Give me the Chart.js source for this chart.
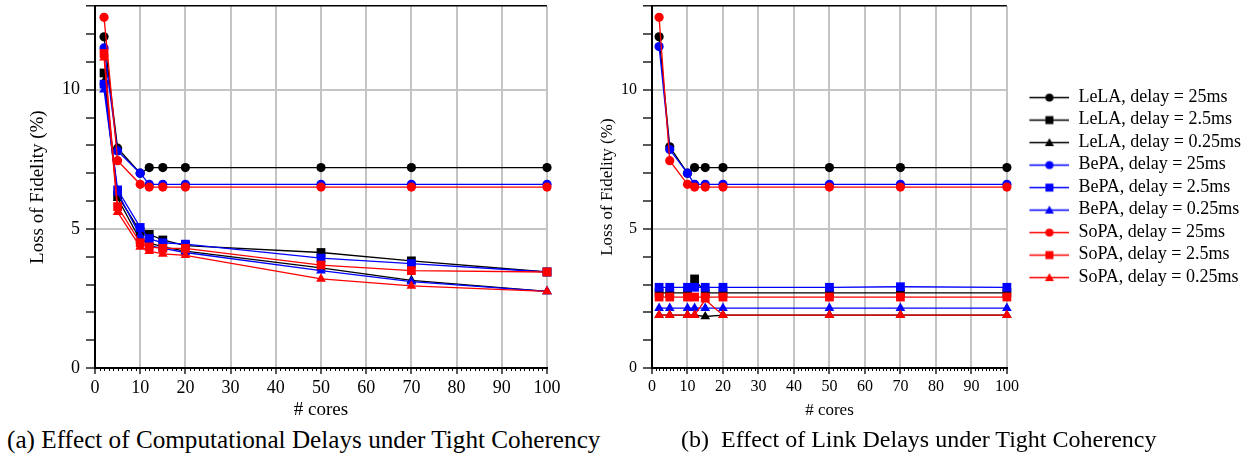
<!DOCTYPE html>
<html>
<head>
<meta charset="utf-8">
<script src="https://cdn.jsdelivr.net/npm/chart.js@4.4.1/dist/chart.umd.min.js"></script>
<style>
body{margin:0;background:#fff;}
#wrap{position:relative;width:1255px;height:459px;overflow:hidden;font-family:"Liberation Serif","Times New Roman",serif;}
canvas{position:absolute;top:0;}
#chartA{left:0;}
#chartB{left:585px;}
.cap{position:absolute;top:427px;white-space:pre;line-height:1;color:#000;}
#capA{left:7px;font-size:25.2px;}
#capB{left:681px;font-size:24px;}
</style>
</head>
<body>
<div id="wrap">
  <canvas id="chartA" width="600" height="425"></canvas>
  <canvas id="chartB" width="670" height="425"></canvas>
  <div class="cap" id="capA">(a) Effect of Computational Delays under Tight Coherency</div>
  <div class="cap" id="capB">(b)  Effect of Link Delays under Tight Coherency</div>
</div>
<script>

/* DATA */

const cores = [2, 5, 10, 12, 15, 20, 50, 70, 100];

const seriesNames = [
  "LeLA, delay = 25ms", "LeLA, delay = 2.5ms", "LeLA, delay = 0.25ms",
  "BePA, delay = 25ms", "BePA, delay = 2.5ms", "BePA, delay = 0.25ms",
  "SoPA, delay = 25ms", "SoPA, delay = 2.5ms", "SoPA, delay = 0.25ms"
];
const seriesColors = ["#000000","#000000","#000000","#0000ff","#0000ff","#0000ff","#ff0000","#ff0000","#ff0000"];
const seriesMarkers = ["circle","rect","triangle","circle","rect","triangle","circle","rect","triangle"];

const yTicksShown = [0, 5, 10];

// (a) computational delays
const compLeLA25   = [11.9, 7.9, 7.0, 7.2, 7.2, 7.2, 7.2, 7.2, 7.2];
const compLeLA2_5  = [10.6, 6.2, 4.9, 4.8, 4.6, 4.4, 4.15, 3.85, 3.45];
const compLeLA0_25 = [10.3, 6.1, 4.6, 4.5, 4.35, 4.2, 3.6, 3.15, 2.75];
const compBePA25   = [11.5, 7.8, 7.0, 6.6, 6.6, 6.6, 6.6, 6.6, 6.6];
const compBePA2_5  = [10.2, 6.4, 5.05, 4.65, 4.5, 4.45, 3.95, 3.75, 3.45];
const compBePA0_25 = [10.0, 6.3, 4.75, 4.4, 4.3, 4.15, 3.5, 3.1, 2.75];
const compSoPA25   = [12.6, 7.45, 6.6, 6.5, 6.5, 6.5, 6.5, 6.5, 6.5];
const compSoPA2_5  = [11.3, 5.8, 4.5, 4.35, 4.3, 4.3, 3.7, 3.5, 3.45];
const compSoPA0_25 = [11.15, 5.6, 4.35, 4.2, 4.1, 4.05, 3.2, 2.95, 2.75];

// (b) link delays
const linkLeLA25   = [11.9, 7.95, 7.0, 7.2, 7.2, 7.2, 7.2, 7.2, 7.2];
const linkLeLA2_5  = [2.7, 2.7, 2.7, 3.2, 2.7, 2.7, 2.7, 2.7, 2.7];
const linkLeLA0_25 = [1.9, 1.9, 1.9, 1.9, 1.85, 1.9, 1.9, 1.9, 1.9];
const linkBePA25   = [11.55, 7.85, 7.0, 6.6, 6.6, 6.6, 6.6, 6.6, 6.6];
const linkBePA2_5  = [2.9, 2.9, 2.9, 2.9, 2.9, 2.9, 2.9, 2.92, 2.9];
const linkBePA0_25 = [2.15, 2.15, 2.15, 2.15, 2.15, 2.15, 2.15, 2.15, 2.15];
const linkSoPA25   = [12.6, 7.45, 6.6, 6.5, 6.5, 6.5, 6.5, 6.5, 6.5];
const linkSoPA2_5  = [2.55, 2.55, 2.55, 2.55, 2.55, 2.55, 2.55, 2.55, 2.55];
const linkSoPA0_25 = [1.9, 1.9, 1.9, 1.9, 2.45, 1.9, 1.9, 1.9, 1.9];

const compSeries = [compLeLA25, compLeLA2_5, compLeLA0_25, compBePA25, compBePA2_5, compBePA0_25, compSoPA25, compSoPA2_5, compSoPA0_25];
const linkSeries = [linkLeLA25, linkLeLA2_5, linkLeLA0_25, linkBePA25, linkBePA2_5, linkBePA0_25, linkSoPA25, linkSoPA2_5, linkSoPA0_25];

/* STYLE */

const FONT = "'Liberation Serif', 'Times New Roman', serif";
const GRID = "#c4c4c4";
const markerRadius = {circle: 4.6, rect: 6.2, triangle: 5.6};

function makeDatasets(series){
  return series.map((vals, i) => ({
    label: seriesNames[i],
    data: cores.map((c, j) => ({x: c, y: vals[j]})),
    borderColor: seriesColors[i],
    backgroundColor: seriesColors[i],
    pointBackgroundColor: seriesColors[i],
    pointBorderColor: seriesColors[i],
    pointBorderWidth: 0,
    pointStyle: seriesMarkers[i],
    pointRadius: markerRadius[seriesMarkers[i]],
    borderWidth: 1.3,
    tension: 0,
    clip: false,
    order: series.length - i
  }));
}

/* legend swatches: line with marker */

function makeSwatch(i){
  const c = document.createElement("canvas");
  c.width = 58;
  c.height = 14;
  const g = c.getContext("2d");
  g.strokeStyle = seriesColors[i];
  g.fillStyle = seriesColors[i];
  g.lineWidth = 1.4;
  g.beginPath();
  g.moveTo(18, 7.5);
  g.lineTo(58, 7.5);
  g.stroke();
  g.beginPath();
  const m = seriesMarkers[i];
  if(m === "circle"){
    g.arc(38, 7.5, 4, 0, Math.PI * 2);
  }else if(m === "rect"){
    g.rect(34, 3.5, 8, 8);
  }else{
    g.moveTo(38, 3);
    g.lineTo(42.5, 11);
    g.lineTo(33.5, 11);
    g.closePath();
  }
  g.fill();
  return c;
}

const swatches = seriesNames.map((_, i) => makeSwatch(i));

/* minor ticks on x axis */

const minorTicks = {
  id: "minorTicks",
  afterDraw(chart){
    const xs = chart.scales.x;
    const ctx = chart.ctx;
    ctx.save();
    ctx.strokeStyle = "#000";
    ctx.lineWidth = 1;
    ctx.beginPath();
    for(let v = xs.min; v <= xs.max; v++){
      if(v % 10 === 0) continue;
      const px = Math.round(xs.getPixelForValue(v)) + 0.5;
      ctx.moveTo(px, xs.top);
      ctx.lineTo(px, xs.top + 3);
    }
    ctx.stroke();
    ctx.restore();
  }
};

function makeOptions(cfg){
  return {
    responsive: false,
    animation: false,
    layout: { padding: { top: 5, right: cfg.padRight, left: 0, bottom: 0 } },
    plugins: {
      legend: cfg.legend ? {
        display: true,
        position: "right",
        align: "center",
        fullSize: false,
        maxWidth: 400,
        labels: {
          usePointStyle: true,
          pointStyleWidth: 58,
          padding: 4.5,
          color: "#000",
          font: { family: FONT, size: 18 },
          generateLabels: (chart) => chart.data.datasets.map((ds, i) => ({
            text: ds.label,
            pointStyle: swatches[i],
            fillStyle: "rgba(0,0,0,0)",
            strokeStyle: "rgba(0,0,0,0)",
            lineWidth: 0,
            hidden: false,
            datasetIndex: i,
            fontColor: "#000"
          }))
        }
      } : { display: false },
      tooltip: { enabled: false }
    },
    scales: {
      x: {
        type: "linear",
        min: 0,
        max: 100,
        afterFit: (s) => { s.height = 57; s.paddingLeft = 0; s.paddingRight = 0; },
        ticks: {
          stepSize: 10,
          padding: 3,
          color: "#000",
          font: { family: FONT, size: cfg.tickSize },
          maxRotation: 0
        },
        grid: {
          color: (c) => c.tick && c.tick.value === 0 ? "rgba(0,0,0,0)" : GRID,
          lineWidth: 2,
          tickColor: "#000",
          tickWidth: 1.3,
          tickLength: 6
        },
        border: { color: "#000", width: 2 },
        title: {
          display: true,
          text: "# cores",
          color: "#000",
          font: { family: FONT, size: cfg.titleSize },
          padding: { top: 0, bottom: 4 }
        }
      },
      y: {
        type: "linear",
        min: 0,
        max: 13,
        afterFit: (s) => { s.width = cfg.yWidth; s.paddingTop = 0; s.paddingBottom = 0; },
        ticks: {
          stepSize: 1,
          padding: 6,
          color: "#000",
          font: { family: FONT, size: cfg.tickSize },
          callback: (v) => yTicksShown.includes(v) ? String(v) : ""
        },
        grid: {
          color: (c) => {
            const v = c.tick ? c.tick.value : -1;
            if(v === 13) return "#000";
            if(v === 5 || v === 10) return GRID;
            return "rgba(0,0,0,0)";
          },
          lineWidth: (c) => c.tick && c.tick.value === 13 ? 1.6 : 2,
          tickColor: "#000",
          tickWidth: 1.3,
          tickLength: 9
        },
        border: { color: "#000", width: 2 },
        title: {
          display: true,
          text: "Loss of Fidelity (%)",
          color: "#000",
          font: { family: FONT, size: cfg.titleSize },
          padding: { top: cfg.yTitlePad, bottom: 0 }
        }
      }
    }
  };
}

/* CHARTS */

new Chart(document.getElementById("chartA"), {
  type: "line",
  data: { datasets: makeDatasets(compSeries) },
  options: makeOptions({ padRight: 53, yWidth: 95, tickSize: 18, titleSize: 19, yTitlePad: 27, legend: false }),
  plugins: [minorTicks]
});

new Chart(document.getElementById("chartB"), {
  type: "line",
  data: { datasets: makeDatasets(linkSeries) },
  options: makeOptions({ padRight: 4, yWidth: 67, tickSize: 16, titleSize: 17, yTitlePad: 12, legend: true }),
  plugins: [minorTicks]
});

</script>
</body>
</html>
